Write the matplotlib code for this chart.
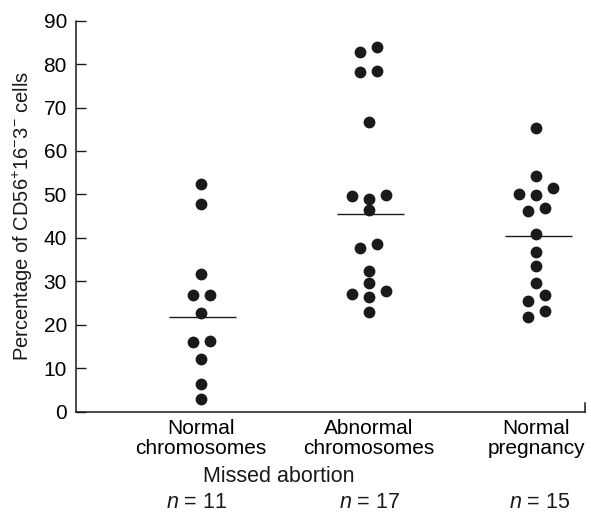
import matplotlib
matplotlib.use("Agg")
import matplotlib.pyplot as plt

plt.rcParams['font.family'] = ['Liberation Sans', 'DejaVu Sans']
plt.rcParams['mathtext.fontset'] = 'custom'
plt.rcParams['mathtext.rm'] = 'Liberation Sans'
plt.rcParams['mathtext.it'] = 'Liberation Sans:italic'

categories = ["Normal\nchromosomes", "Abnormal\nchromosomes", "Normal\npregnancy"]
n_labels = ["$\\mathit{n}$ = 11", "$\\mathit{n}$ = 17", "$\\mathit{n}$ = 15"]

normal_chrom = [52.3, 47.9, 31.7, 27.0, 27.0, 22.7, 16.0, 16.3, 12.2, 6.4, 2.9]
abnormal_chrom = [82.7, 84.0, 78.1, 78.3, 66.6, 49.6, 49.0, 49.8, 46.5, 37.6, 38.7,
                  32.4, 29.7, 27.2, 27.8, 26.5, 23.0]
normal_preg = [65.2, 54.2, 51.5, 50.0, 49.8, 46.9, 46.2, 40.8, 36.8, 33.5, 29.7,
               27.0, 25.5, 23.2, 21.9]
center_lines = [21.9, 45.6, 40.5]

# beeswarm layout: horizontal shift in half-marker steps
shift_1 = [0, 0, 0, -1, 1, 0, -1, 1, 0, 0, 0]
shift_2 = [-1, 1, -1, 1, 0, -2, 0, 2, 0, -1, 1, 0, 0, -2, 2, 0, 0]
shift_3 = [0, 0, 2, -2, 0, 1, -1, 0, 0, 0, 0, 1, -1, 1, -1]

groups = [normal_chrom, abnormal_chrom, normal_preg]
shifts = [shift_1, shift_2, shift_3]

fig = plt.figure(figsize=(5.91, 5.13), dpi=100)
ax = fig.add_axes([0.1286, 0.197, 0.8612, 0.763])

step = 0.051
for i, (vals, sh) in enumerate(zip(groups, shifts)):
    xs = [i + 1 + s * step for s in sh]
    ax.plot(xs, vals, 'o', color='#1a1a1a', markersize=8.5, markeredgewidth=0,
            zorder=3, clip_on=False)
    ax.hlines(center_lines[i], i + 1 - 0.19, i + 1 + 0.21, color='#1a1a1a',
              linewidth=1.0, zorder=2)

ax.set_xlim(0.254, 3.29)
ax.set_ylim(0, 90)
ax.set_yticks(range(0, 91, 10))
ax.set_xticks([1, 2, 3])
ax.set_xticklabels(categories, fontsize=15, linespacing=1.08)
ax.tick_params(axis='x', length=0, pad=5)
ax.tick_params(axis='y', direction='in', length=7.2, width=1.0, pad=6.5,
               labelsize=15, color='#1a1a1a')

ax.spines['top'].set_visible(False)
ax.spines['right'].set_bounds(0, 2.1)
for s in ['left', 'bottom', 'right']:
    ax.spines[s].set_linewidth(1.1)
    ax.spines[s].set_color('#1a1a1a')

ax.set_ylabel("Percentage of CD56$^{+}$16$^{-}$3$^{-}$ cells", fontsize=14.5,
              color='#1a1a1a', labelpad=6)

fig.text(279 / 591, 1 - 482.5 / 513, "Missed abortion", ha='center', va='baseline',
         fontsize=15.5, color='#1a1a1a')
n_shift_px = [-4, 1, 3]
for i, lab in enumerate(n_labels):
    xd = ax.transData.transform((i + 1, 0))[0]
    fig.text((xd + n_shift_px[i]) / 591, 1 - 508.5 / 513, lab, ha='center',
             va='baseline', fontsize=15.5, color='#1a1a1a')

fig.savefig("out.png", dpi=100)
